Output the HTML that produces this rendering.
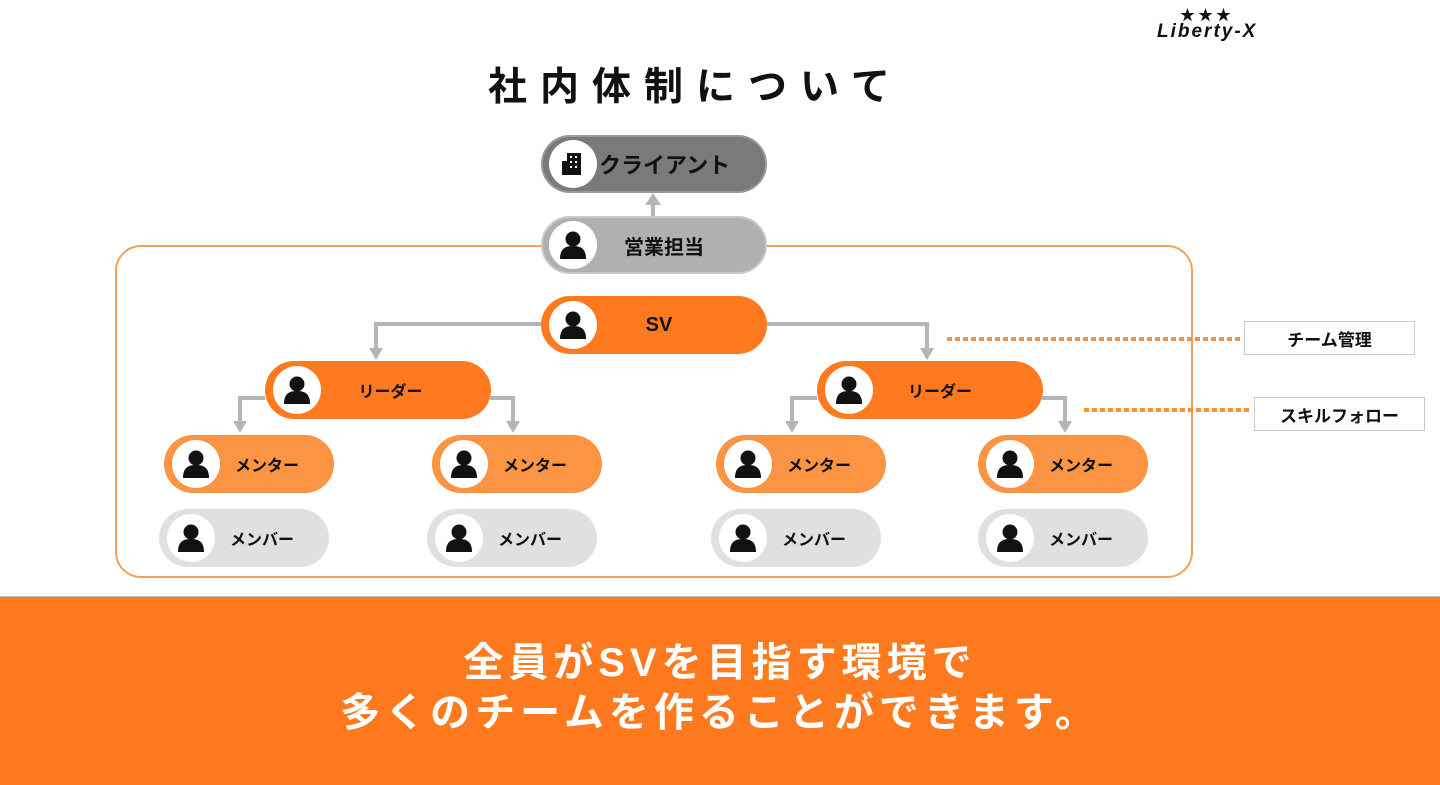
<!DOCTYPE html>
<html><head><meta charset="utf-8"><style>
*{margin:0;padding:0;box-sizing:border-box}
body{width:1440px;height:785px;position:relative;background:#fff;font-family:"Liberation Sans","Noto Sans CJK JP",sans-serif;overflow:hidden}
.a{position:absolute}
.pill{position:absolute;border-radius:29px;height:58px;font-weight:bold;color:#111;font-size:17px;display:flex;align-items:center;justify-content:center}
.ic{position:absolute;left:8px;top:5px;width:48px;height:48px;border-radius:50%;background:#fff;display:flex;align-items:center;justify-content:center}
.lbl{position:absolute;background:#fff;border:1px solid #c8c8c8;font-weight:bold;font-size:17px;display:flex;align-items:center;justify-content:center;color:#111}
</style></head><body>
<div class="a" style="left:1180px;top:4px;font-size:15px;letter-spacing:3px;color:#111">★★★</div>
<div class="a" style="left:1157px;top:21px;font-size:19px;font-style:italic;font-weight:bold;letter-spacing:2px;color:#111">Liberty-X</div>
<div class="a" style="left:488px;top:56px;font-size:39px;font-weight:bold;letter-spacing:13px;color:#111">社内体制について</div>

<div class="a" style="left:115px;top:245px;width:1078px;height:333px;border:2px solid #F4A05A;border-radius:26px"></div>

<svg class="a" style="left:0;top:0" width="1440" height="600">
<g stroke="#b5b5b5" stroke-width="4" fill="none">
<line x1="653" y1="216" x2="653" y2="202"/>
<polyline points="541,324 376,324 376,350"/>
<polyline points="766,324 927,324 927,350"/>
<polyline points="265,398 240,398 240,423"/>
<polyline points="490,398 513,398 513,423"/>
<polyline points="817,398 792,398 792,423"/>
<polyline points="1042,398 1065,398 1065,423"/>
</g>
<g fill="#b5b5b5">
<polygon points="645,205 661,205 653,193"/>
<polygon points="369,348 383,348 376,360"/>
<polygon points="920,348 934,348 927,360"/>
<polygon points="233,421 247,421 240,433"/>
<polygon points="506,421 520,421 513,433"/>
<polygon points="785,421 799,421 792,433"/>
<polygon points="1058,421 1072,421 1065,433"/>
</g>
<g stroke="#F7923F" stroke-width="4" stroke-dasharray="5,3">
<line x1="947" y1="339" x2="1240" y2="339"/>
<line x1="1084" y1="410" x2="1252" y2="410"/>
</g>
<defs><g id="p"><circle cx="0" cy="-6" r="7.5" fill="#111"/><path d="M-13,14 C-13,3 -7,1 0,1 C7,1 13,3 13,14 Z" fill="#111"/></g></defs>
</svg>

<div class="lbl" style="left:1244px;top:321px;width:171px;height:34px">チーム管理</div>
<div class="lbl" style="left:1254px;top:397px;width:171px;height:34px">スキルフォロー</div>

<div class="pill" style="left:541px;top:135px;width:226px;background:#7a7a7a;border:2px solid #999;font-size:22px;padding-left:50px;justify-content:flex-start">
<div class="ic" style="left:6px;top:3px"><svg width="24" height="26"><rect x="6" y="2" width="14" height="22" fill="#111"/><rect x="1" y="10" width="6" height="14" fill="#111"/><g fill="#fff"><rect x="9" y="5" width="2" height="2"/><rect x="14" y="5" width="2" height="2"/><rect x="9" y="10" width="2" height="2"/><rect x="14" y="10" width="2" height="2"/><rect x="9" y="15" width="2" height="2"/><rect x="14" y="15" width="2" height="2"/></g></svg></div>
<span style="margin-left:6px">クライアント</span></div>

<div class="pill" style="left:541px;top:216px;width:226px;background:#b0b0b0;border:2px solid #c8c8c8;font-size:20px"><div class="ic" style="left:6px;top:3px"><svg width="30" height="30" viewBox="-15 -15 30 30"><use href="#p"/></svg></div><span style="margin-left:20px">営業担当</span></div>

<div class="pill" style="left:541px;top:296px;width:226px;background:#FF7A1F;font-size:20px"><div class="ic"><svg width="30" height="30" viewBox="-15 -15 30 30"><use href="#p"/></svg></div><span style="margin-left:10px">SV</span></div>

<div class="pill" style="left:265px;top:361px;width:226px;background:#FF7A1F;font-size:16px"><div class="ic"><svg width="30" height="30" viewBox="-15 -15 30 30"><use href="#p"/></svg></div><span style="margin-left:25px">リーダー</span></div>
<div class="pill" style="left:817px;top:361px;width:226px;background:#FF7A1F;font-size:16px"><div class="ic"><svg width="30" height="30" viewBox="-15 -15 30 30"><use href="#p"/></svg></div><span style="margin-left:20px">リーダー</span></div>

<div class="pill" style="left:164px;top:435px;width:170px;background:#FB9443;font-size:16px"><div class="ic"><svg width="30" height="30" viewBox="-15 -15 30 30"><use href="#p"/></svg></div><span style="margin-left:36px">メンター</span></div>
<div class="pill" style="left:432px;top:435px;width:170px;background:#FB9443;font-size:16px"><div class="ic"><svg width="30" height="30" viewBox="-15 -15 30 30"><use href="#p"/></svg></div><span style="margin-left:36px">メンター</span></div>
<div class="pill" style="left:716px;top:435px;width:170px;background:#FB9443;font-size:16px"><div class="ic"><svg width="30" height="30" viewBox="-15 -15 30 30"><use href="#p"/></svg></div><span style="margin-left:36px">メンター</span></div>
<div class="pill" style="left:978px;top:435px;width:170px;background:#FB9443;font-size:16px"><div class="ic"><svg width="30" height="30" viewBox="-15 -15 30 30"><use href="#p"/></svg></div><span style="margin-left:36px">メンター</span></div>

<div class="pill" style="left:159px;top:509px;width:170px;background:#e0e0e0;font-size:16px"><div class="ic"><svg width="30" height="30" viewBox="-15 -15 30 30"><use href="#p"/></svg></div><span style="margin-left:36px">メンバー</span></div>
<div class="pill" style="left:427px;top:509px;width:170px;background:#e0e0e0;font-size:16px"><div class="ic"><svg width="30" height="30" viewBox="-15 -15 30 30"><use href="#p"/></svg></div><span style="margin-left:36px">メンバー</span></div>
<div class="pill" style="left:711px;top:509px;width:170px;background:#e0e0e0;font-size:16px"><div class="ic"><svg width="30" height="30" viewBox="-15 -15 30 30"><use href="#p"/></svg></div><span style="margin-left:36px">メンバー</span></div>
<div class="pill" style="left:978px;top:509px;width:170px;background:#e0e0e0;font-size:16px"><div class="ic"><svg width="30" height="30" viewBox="-15 -15 30 30"><use href="#p"/></svg></div><span style="margin-left:36px">メンバー</span></div>

<div class="a" style="left:0;top:596px;width:1440px;height:189px;background:#FF7A1F;border-top:1px solid #bbb"></div>
<div class="a" style="left:0;top:638px;width:1440px;text-align:center;color:#fff;font-weight:bold;font-size:40px;letter-spacing:5px;line-height:50px;padding-right:0px">全員がSVを目指す環境で<br>多くのチームを作ることができます。</div>
</body></html>
